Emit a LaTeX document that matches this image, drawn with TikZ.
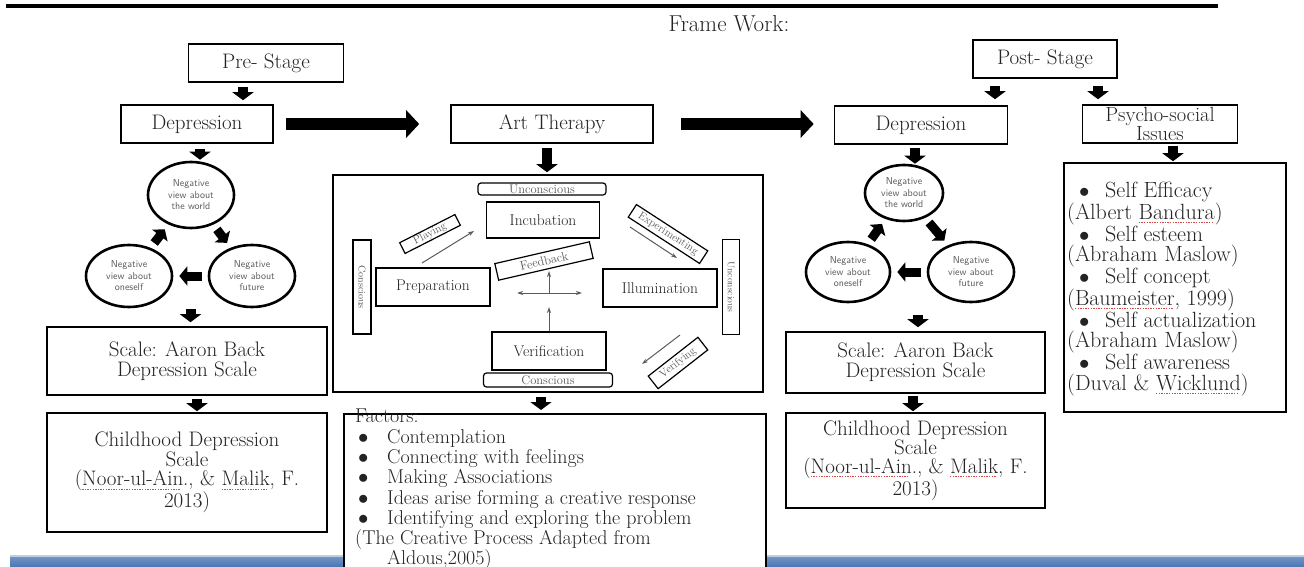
\documentclass[tikz,border=0pt]{standalone}
\usetikzlibrary{arrows.meta,positioning,calc,shapes.geometric}
\definecolor{InkGray}{RGB}{35,35,35}
\definecolor{LabelGray}{RGB}{90,90,90}
\definecolor{BarBlue}{RGB}{74,118,180}
\definecolor{BarEdge}{RGB}{190,205,225}
\definecolor{SpellRed}{RGB}{215,70,70}
\newsavebox{\spellbox}
\newcommand{\spellmark}[1]{\sbox{\spellbox}{#1}\rlap{\raisebox{-3.5pt}{\textcolor{SpellRed}{\hbox to \wd\spellbox{\leaders\hbox{\rule{1.4pt}{0.9pt}\kern1.2pt}\hfill}}}}\usebox{\spellbox}}
\newcommand{\bdot}[2]{\hspace*{#1}\makebox[#2][l]{$\bullet$}}

\begin{document}
\begin{tikzpicture}[x=1pt,y=-1pt,
    plainbox/.style={draw=black, line width=1.6, fill=white, align=center, inner sep=0pt, text=InkGray, font=\fontsize{21}{20}\selectfont},
    stagebox/.style={plainbox, minimum height=38},
    labeltag/.style={draw=black, line width=1.2, fill=white, inner sep=0pt, text=LabelGray, font=\fontsize{11}{11}\selectfont},
    roundtag/.style={labeltag, rounded corners=3, font=\fontsize{12.5}{12.5}\selectfont},
    stepnode/.style={draw=black, line width=1.4, fill=white, inner sep=0pt, text=InkGray, font=\fontsize{15.5}{15.5}\selectfont, minimum width=114, minimum height=38},
    thought/.style={ellipse, draw=black, line width=2.6, inner sep=0pt, align=center, text=LabelGray, font=\sffamily\fontsize{10}{11.5}\selectfont},
    fatdown/.style={draw=black, line width=10, -{Triangle[length=8,width=21]}},
    fatright/.style={draw=black, line width=12, -{Triangle[length=13,width=27]}},
    fatsmall/.style={draw=black, line width=9, -{Triangle[length=8,width=19]}, shorten <=6, shorten >=6},
    thinarrow/.style={draw=LabelGray, line width=1, -{Stealth[length=6,width=4]}}]
        \useasboundingbox (0,0) rectangle (1304,567);
        \draw[line width=4] (6,6) -- (1218,6);
        \node[font=\fontsize{23}{23}\selectfont, text=InkGray] (title) at (729,24) {Frame Work:};
        \fill[BarEdge] (10,555) rectangle (1304,557.5);
        \shade[top color=BarBlue!80, bottom color=BarBlue] (10,557.5) rectangle (1304,567);

        \node[stagebox, minimum width=155] (pre) at (266,63) {Pre- Stage};
        \node[stagebox, minimum width=152] (depL) at (197,124) {Depression};
        \node[thought, minimum width=86, minimum height=66] (worldL) at (191,195) {Negative\\view about\\the world};
        \node[thought, minimum width=86, minimum height=62] (selfL) at (129,276) {Negative\\view about\\oneself};
        \node[thought, minimum width=86, minimum height=62] (futureL) at (252,276) {Negative\\view about\\future};
        \coordinate (circL) at ($(selfL.south)!0.5!(futureL.south)$);
        \node[plainbox, minimum width=280, minimum height=68] (scaleL) at (187,361) {Scale: Aaron Back\\Depression Scale};
        \node[plainbox, minimum width=280, minimum height=119, font=\fontsize{21}{19.7}\selectfont] (childL) at (187,472.5) {Childhood Depression\\Scale\\(\spellmark{Noor-ul-Ain}., \& \spellmark{Malik}, F.\\2013)};

        \node[stagebox, minimum width=202] (art) at (552,124) {Art Therapy};
        \node[draw=black, line width=1.6, minimum width=430, minimum height=217, inner sep=0pt] (process) at (548,283.5) {};
        \node[roundtag, minimum width=128, minimum height=12] (uncT) at (542,189) {Unconscious};
        \node[stepnode, minimum width=113, minimum height=36] (incub) at (543,220) {Incubation};
        \node[labeltag, minimum width=94, minimum height=18, rotate=-90, font=\fontsize{10}{10}\selectfont] (consL) at (362,287) {Conscious};
        \node[stepnode] (prep) at (433,287) {Preparation};
        \node[stepnode] (illum) at (660,288) {Illumination};
        \node[labeltag, minimum width=95, minimum height=17, rotate=-90, font=\fontsize{9.5}{9.5}\selectfont] (uncR) at (731,287) {Unconscious};
        \node[stepnode] (verif) at (549,351) {Verification};
        \node[roundtag, minimum width=129, minimum height=14] (consB) at (548,380) {Conscious};
        \node[labeltag, minimum width=62, minimum height=12, rotate=27] (playtag) at (430,234) {Playing};
        \node[labeltag, minimum width=85, minimum height=15, rotate=-33] (expertag) at (668,234) {Experimenting};
        \node[labeltag, minimum width=97, minimum height=17, rotate=13, font=\fontsize{12.5}{12.5}\selectfont] (feedtag) at (544,261) {Feedback};
        \node[labeltag, minimum width=63, minimum height=16, rotate=38] (verifytag) at (678,363) {Verifying};
        \coordinate (playA) at (422,263);
        \coordinate (playB) at (474,231);
        \coordinate (expA) at (630,227);
        \coordinate (expB) at (677,258);
        \coordinate (verA) at (680,335);
        \coordinate (verB) at (642,364);
        \coordinate (hub) at (549,293);
        \coordinate (hubL) at (517,293);
        \coordinate (hubR) at (582,293);
        \coordinate (hubV) at (549,307);
        \draw[thinarrow] (playA) -- (playB);
        \draw[thinarrow] (expA) -- (expB);
        \draw[thinarrow] (verA) -- (verB);
        \draw[thinarrow, {Stealth[length=6,width=4]}-{Stealth[length=6,width=4]}] (hubL) -- (hubR);
        \draw[thinarrow, shorten >=10] (hub) -- (hub |- feedtag.center);
        \draw[thinarrow] (verif.north -| hub) -- (hubV);
        \node[plainbox, minimum width=422, minimum height=170, anchor=north west] (factors) at (343,413) {};
        \node[anchor=north west, align=left, inner sep=0pt, text=InkGray, font=\fontsize{20}{20.3}\selectfont] (factorlist) at (355,409) {Factors:\\
            \bdot{3pt}{29pt}Contemplation\\
            \bdot{3pt}{29pt}Connecting with feelings\\
            \bdot{3pt}{29pt}Making Associations\\
            \bdot{3pt}{29pt}Ideas arise forming a creative response\\
            \bdot{3pt}{29pt}Identifying and exploring the problem\\
            (The Creative Process Adapted from\\
            \hspace*{32pt}Aldous,2005)};

        \node[stagebox, minimum width=144] (post) at (1045,59) {Post- Stage};
        \node[stagebox, minimum width=173] (depR) at (921,125) {Depression};
        \node[stagebox, minimum width=155, font=\fontsize{20.5}{18}\selectfont] (psy) at (1160,124) {Psycho-social\\Issues};
        \node[thought, minimum width=78, minimum height=56] (worldR) at (904,193) {Negative\\view about\\the world};
        \node[thought, minimum width=84, minimum height=60] (selfR) at (848,272) {Negative\\view about\\oneself};
        \node[thought, minimum width=86, minimum height=60] (futureR) at (971,272) {Negative\\view about\\future};
        \node[plainbox, minimum width=259, minimum height=61] (scaleR) at (915.5,362.5) {Scale: Aaron Back\\Depression Scale};
        \node[plainbox, minimum width=259, minimum height=95, font=\fontsize{21}{18.5}\selectfont] (childR) at (915.5,460.5) {Childhood Depression\\Scale\\(\spellmark{Noor-ul-Ain}., \& \spellmark{Malik}, F.\\2013)};
        \node[plainbox, minimum width=222, minimum height=249] (issues) at (1175,287.5) {};
        \node[anchor=north west, align=left, inner sep=0pt, text=InkGray, font=\fontsize{22}{20.4}\selectfont] (issuelist) at (1067,182) {\bdot{12pt}{26pt}Self Efficacy\\
            (Albert \spellmark{Bandura})\\
            \bdot{12pt}{26pt}Self esteem\\
            (Abraham Maslow)\\
            \bdot{12pt}{26pt}Self concept\\
            (\spellmark{Baumeister}, 1999)\\
            \bdot{12pt}{26pt}Self actualization\\
            (Abraham Maslow)\\
            \bdot{12pt}{26pt}Self awareness\\
            (Duval \& \spellmark{Wicklund})};

        \draw[fatdown, shorten <=4, shorten >=4] ([xshift=-23]pre.south) -- ([xshift=-23]pre.south |- depL.north);
        \draw[fatdown, shorten <=5, shorten >=1] ([xshift=3]depL.south) -- ([xshift=3]depL.south |- worldL.north);
        \draw[fatsmall] (selfL) -- (worldL);
        \draw[fatsmall] (worldL) -- (futureL);
        \draw[fatsmall] (futureL) -- (selfL);
        \draw[fatdown, shorten <=1, shorten >=4] (circL) -- (circL |- scaleL.north);
        \draw[fatdown, shorten <=3, shorten >=1] ([xshift=10]scaleL.south) -- ([xshift=10]scaleL.south |- childL.north);
        \draw[fatright, shorten <=12, shorten >=31] (depL.east) -- (art.west);
        \draw[fatdown, shorten <=4.5, shorten >=2] ([xshift=-5]art.south) -- ([xshift=-5]art.south |- process.north);
        \draw[fatdown, shorten <=4, shorten >=3] ([xshift=-7]process.south) -- ([xshift=-7]process.south |- factors.north);
        \draw[fatright, shorten <=27, shorten >=20] (art.east) -- (art.east -| depR.west);
        \draw[fatdown, shorten <=7, shorten >=6] ([xshift=-50]post.south) -- ([xshift=-50]post.south |- depR.north);
        \draw[fatdown, shorten <=7, shorten >=5] ([xshift=53]post.south) -- ([xshift=53]post.south |- psy.north);
        \draw[fatdown, shorten <=3, shorten >=0] ([xshift=-6]depR.south) -- ([xshift=-6]depR.south |- worldR.north);
        \draw[fatsmall] (selfR) -- (worldR);
        \draw[fatsmall] (worldR) -- (futureR);
        \draw[fatsmall] (futureR) -- (selfR);
        \draw[fatdown, shorten <=12, shorten >=4] ([xshift=2.5]scaleR.north |- selfR.south) -- ([xshift=2.5]scaleR.north);
        \draw[fatdown, shorten <=2, shorten >=1] ([xshift=-2.5]scaleR.south) -- ([xshift=-2.5]scaleR.south |- childR.north);
        \draw[fatdown, shorten <=2, shorten >=1] ([xshift=13]psy.south) -- ([xshift=13]psy.south |- issues.north);
      \end{tikzpicture}
\end{document}
